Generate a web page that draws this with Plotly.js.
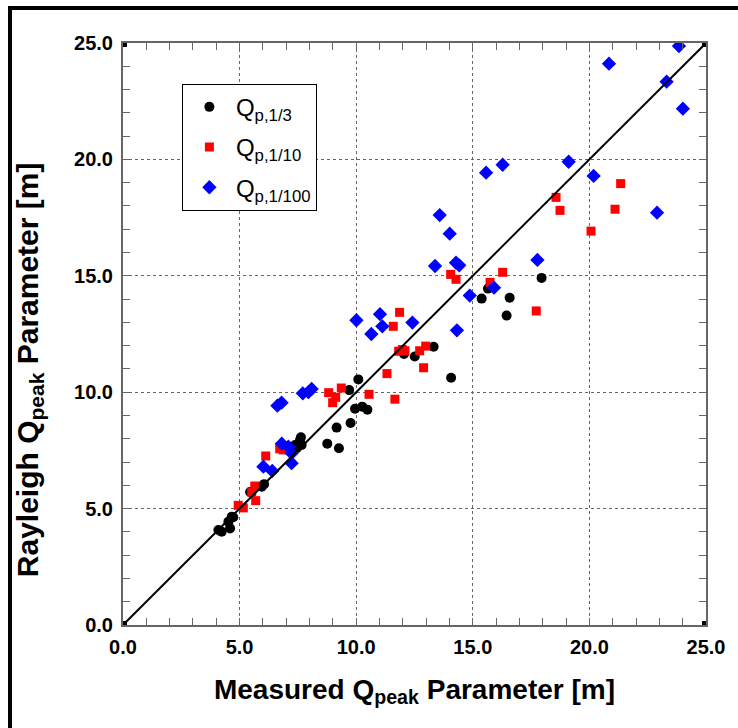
<!DOCTYPE html>
<html>
<head>
<meta charset="utf-8">
<script src="https://cdn.plot.ly/plotly-3.0.1.min.js"></script>
<style>
html,body{margin:0;padding:0;background:#fff;}
#wrap{position:relative;width:738px;height:728px;}
#chart{position:absolute;left:0;top:0;width:738px;height:728px;}
#frame{position:absolute;left:8px;top:6px;width:740px;height:740px;border-left:4px solid #000;border-top:4px solid #000;pointer-events:none;}
</style>
</head>
<body>
<div id="wrap"><div id="chart"></div><div id="frame"></div></div>
<script>
// Q_p,1/3 (black circles)
const q3x = [4.09, 4.23, 4.52, 4.59, 4.66, 4.73, 5.45, 5.95, 6.05, 7.38, 7.45, 7.59, 7.66, 7.63, 8.76, 9.16, 9.26, 9.70, 9.76, 9.95, 10.09, 10.26, 10.48, 12.05, 12.51, 13.32, 14.07, 15.38, 15.65, 16.45, 16.58, 17.95];
const q3y = [4.08, 4.01, 4.44, 4.15, 4.65, 4.63, 5.71, 5.94, 6.05, 7.73, 7.59, 7.95, 7.73, 8.06, 7.79, 8.48, 7.59, 10.09, 8.68, 9.29, 10.55, 9.38, 9.25, 11.64, 11.53, 11.95, 10.62, 14.02, 14.45, 13.29, 14.06, 14.91];
// Q_p,1/10 (red squares)
const q10x = [4.94, 5.16, 5.52, 5.65, 5.69, 6.12, 6.72, 6.87, 8.82, 8.99, 9.12, 9.36, 10.55, 11.32, 11.66, 11.59, 11.86, 11.82, 11.98, 12.09, 12.72, 12.98, 12.89, 14.05, 14.28, 15.74, 16.28, 17.72, 18.57, 18.74, 20.07, 21.10, 21.34];
const q10y = [5.14, 5.03, 5.71, 5.97, 5.34, 7.26, 7.57, 7.52, 9.98, 9.55, 9.78, 10.18, 9.91, 10.80, 9.70, 12.83, 13.43, 11.76, 11.83, 11.78, 11.78, 11.98, 11.05, 15.06, 14.85, 14.72, 15.15, 13.49, 18.37, 17.81, 16.92, 17.86, 18.96];
// Q_p,1/100 (blue diamonds)
const q100x = [6.02, 6.40, 6.62, 6.80, 6.81, 7.09, 7.23, 7.23, 7.71, 7.95, 8.09, 10.01, 10.65, 11.02, 11.12, 12.41, 13.38, 13.58, 14.01, 14.28, 14.42, 14.32, 14.87, 15.91, 15.57, 16.28, 17.77, 19.11, 20.18, 20.84, 22.90, 23.31, 23.84, 24.01];
const q100y = [6.80, 6.62, 9.42, 9.55, 7.79, 7.66, 7.38, 6.95, 9.95, 10.00, 10.14, 13.09, 12.50, 13.35, 12.83, 12.99, 15.42, 17.61, 16.81, 15.56, 15.45, 12.66, 14.15, 14.49, 19.43, 19.77, 15.68, 19.90, 19.29, 24.11, 17.71, 23.34, 24.87, 22.18];
// 1:1 line
const lineX = [0, 25];
const lineY = [0, 25];
const seriesNames = ["Q<sub>p,1/3</sub>", "Q<sub>p,1/10</sub>", "Q<sub>p,1/100</sub>"];
const tickVals = [0, 5, 10, 15, 20, 25];
const tickText = ["0.0", "5.0", "10.0", "15.0", "20.0", "25.0"];
const xTitle = 'Measured Q<sub>peak</sub> Parameter [m]';
const yTitle = 'Rayleigh Q<sub>peak</sub> Parameter [m]';

const data = [
  {x: q3x, y: q3y, type: 'scatter', mode: 'markers', name: seriesNames[0], legendgroup: 'a',
   marker: {symbol: 'circle', color: '#000', size: 10}},
  {x: q10x, y: q10y, type: 'scatter', mode: 'markers', name: seriesNames[1], legendgroup: 'b',
   marker: {symbol: 'square', color: '#f00', size: 9}},
  {x: q100x, y: q100y, type: 'scatter', mode: 'markers', name: seriesNames[2], legendgroup: 'c',
   marker: {symbol: 'diamond', color: '#00f', size: 11}},
  {x: lineX, y: lineY, type: 'scatter', mode: 'lines', showlegend: false,
   line: {color: '#000', width: 2}}
];

const tickFont = {family: 'Liberation Sans, Arial, sans-serif', size: 20, color: '#000', weight: 'bold'};
const axisCommon = {
  range: [0, 25], tickvals: tickVals, ticktext: tickText, tickfont: tickFont,
  ticks: 'inside', ticklen: 7, tickcolor: '#666', tickwidth: 1,
  showline: true, linecolor: '#666', linewidth: 2, mirror: 'ticks',
  showgrid: true, gridcolor: '#666', griddash: 'dot', gridwidth: 1,
  zeroline: false, fixedrange: true,
  minor: {dtick: 1, tick0: 0, ticks: 'inside', ticklen: 7, tickcolor: '#666', tickwidth: 1, showgrid: false}
};
const titleFont = {family: 'Liberation Sans, Arial, sans-serif', size: 28, color: '#000', weight: 'bold'};
const yTitleFont = {family: 'Liberation Sans, Arial, sans-serif', size: 30, color: '#000', weight: 'bold'};

function corner(x, y) {
  return {type: 'rect', xref: 'x', yref: 'y', xsizemode: 'pixel', ysizemode: 'pixel',
    xanchor: x, yanchor: y, x0: -4, x1: 4, y0: -4, y1: 4,
    fillcolor: '#000', line: {width: 0}, layer: 'above'};
}

const layout = {
  width: 738, height: 728,
  margin: {l: 123, r: 32, t: 43, b: 103},
  paper_bgcolor: '#fff', plot_bgcolor: '#fff',
  showlegend: true,
  legend: {x: 0.101, y: 0.93, xanchor: 'left', yanchor: 'top',
    bgcolor: '#fff', bordercolor: '#000', borderwidth: 1,
    font: {family: 'Liberation Sans, Arial, sans-serif', size: 24, color: '#000'},
    traceorder: 'grouped', tracegroupgap: 6, itemwidth: 43},
  xaxis: Object.assign({}, axisCommon, {
    ticklabelstandoff: 3,
    title: {text: xTitle, font: titleFont, standoff: 22}
  }),
  yaxis: Object.assign({}, axisCommon, {
    ticklabelstandoff: 4
  }),
  annotations: [{
    text: yTitle, xref: 'paper', yref: 'paper', x: -0.161, y: 0.438,
    xanchor: 'center', yanchor: 'middle', textangle: -90, showarrow: false,
    font: yTitleFont
  }],
  shapes: [corner(0, 0), corner(25, 0), corner(0, 25), corner(25, 25)]
};

Plotly.newPlot('chart', data, layout, {displayModeBar: false, staticPlot: true});
</script>
</body>
</html>
